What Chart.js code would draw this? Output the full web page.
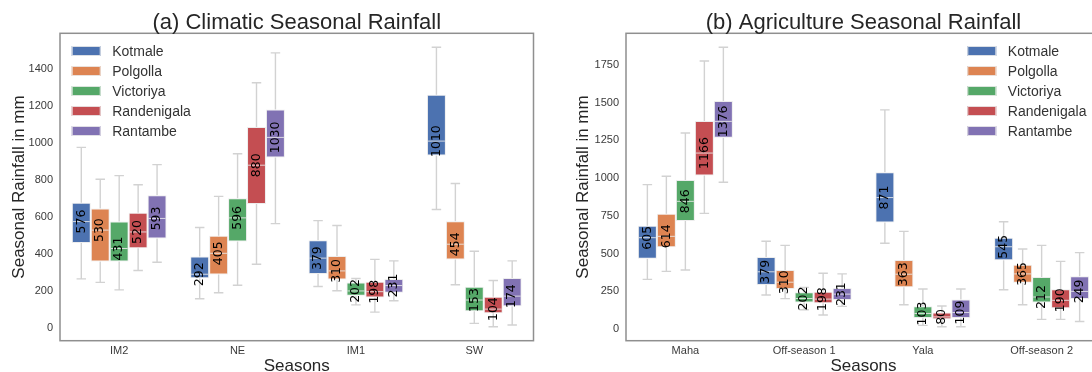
<!DOCTYPE html>
<html>
<head>
<meta charset="utf-8">
<script src="https://cdn.jsdelivr.net/npm/chart.js@4.4.1/dist/chart.umd.min.js"></script>
<style>
  html, body { margin: 0; padding: 0; background: #ffffff; overflow: hidden; width: 1092px; height: 372px; }
  .panel { position: absolute; top: 0; height: 372px; overflow: hidden; }
  #panelA { left: 0; width: 546px; }
  #panelB { left: 546px; width: 546px; }
  canvas { display: block; }
</style>
</head>
<body>
<div class="panel" id="panelA"><canvas id="chartA" width="546" height="380"></canvas></div>
<div class="panel" id="panelB"><canvas id="chartB" width="570" height="380"></canvas></div>
<script>
// Reservoir stations and their colours
const stations = ['Kotmale', 'Polgolla', 'Victoriya', 'Randenigala', 'Rantambe'];
const stationColors = ['#4C72B0', '#DD8452', '#55A868', '#C44E52', '#8172B3'];

// (a) Climatic seasons — one row per station, one column per season
const climaticSeasons = ['IM2', 'NE', 'IM1', 'SW'];
const climaticTicks = [0, 200, 400, 600, 800, 1000, 1200, 1400];
const climaticMedian = [
  [576, 292, 379, 1010],
  [530, 405, 310, 454],
  [431, 596, 202, 153],
  [520, 880, 198, 104],
  [593, 1030, 231, 174]
];
const climaticQ1 = [
  [461, 271, 294, 932],
  [361, 291, 264, 372],
  [361, 468, 176, 93],
  [432, 671, 167, 82],
  [485, 922, 192, 120]
];
const climaticQ3 = [
  [678, 388, 476, 1260],
  [646, 499, 391, 578],
  [576, 702, 248, 224],
  [623, 1086, 251, 170],
  [718, 1181, 267, 272]
];
const climaticLow = [
  [267, 160, 226, 641],
  [248, 192, 203, 235],
  [208, 233, 127, 27],
  [312, 346, 88, 9],
  [357, 565, 149, 18]
];
const climaticHigh = [
  [976, 544, 581, 1516],
  [804, 712, 555, 781],
  [824, 942, 269, 416],
  [775, 1325, 372, 258],
  [883, 1486, 364, 364]
];

// (b) Agricultural seasons
const agriSeasons = ['Maha', 'Off-season 1', 'Yala', 'Off-season 2'];
const agriTicks = [0, 250, 500, 750, 1000, 1250, 1500, 1750];
const agriMedian = [
  [605, 379, 871, 545],
  [614, 310, 363, 365],
  [846, 202, 103, 212],
  [1166, 198, 80, 190],
  [1376, 231, 109, 249]
];
const agriQ1 = [
  [466, 292, 705, 455],
  [541, 265, 276, 307],
  [716, 176, 73, 176],
  [1018, 170, 64, 137],
  [1268, 192, 73, 199]
];
const agriQ3 = [
  [685, 477, 1038, 605],
  [764, 391, 457, 426],
  [988, 243, 150, 345],
  [1379, 247, 110, 263],
  [1511, 272, 196, 349]
];
const agriLow = [
  [329, 225, 568, 260],
  [382, 201, 161, 161],
  [391, 128, 24, 64],
  [766, 93, 15, 64],
  [972, 150, 15, 50]
];
const agriHigh = [
  [957, 581, 1452, 711],
  [1012, 554, 647, 530],
  [1299, 276, 265, 554],
  [1776, 369, 152, 448],
  [1867, 365, 265, 506]
];

const SANS = "'Liberation Sans', Arial, sans-serif";
const TEXT = '#262626';

// Whiskers, caps, median lines and rotated median labels for each box
function boxPlotPlugin(stats) {
  return {
    id: 'boxWhiskers',
    beforeDatasetsDraw(chart) {
      const { ctx } = chart;
      const y = chart.scales.y;
      ctx.save();
      ctx.strokeStyle = '#d2d2d2';
      ctx.lineWidth = 1.4;
      chart.data.datasets.forEach((ds, di) => {
        chart.getDatasetMeta(di).data.forEach((bar, i) => {
          const x = bar.x, half = bar.width / 4;
          const lo = y.getPixelForValue(stats.low[di][i]);
          const hi = y.getPixelForValue(stats.high[di][i]);
          const q1 = y.getPixelForValue(stats.q1[di][i]);
          const q3 = y.getPixelForValue(stats.q3[di][i]);
          ctx.beginPath();
          ctx.moveTo(x, q3); ctx.lineTo(x, hi);
          ctx.moveTo(x - half, hi); ctx.lineTo(x + half, hi);
          ctx.moveTo(x, q1); ctx.lineTo(x, lo);
          ctx.moveTo(x - half, lo); ctx.lineTo(x + half, lo);
          ctx.stroke();
        });
      });
      ctx.restore();
    },
    afterDatasetsDraw(chart) {
      const { ctx } = chart;
      const y = chart.scales.y;
      ctx.save();
      chart.data.datasets.forEach((ds, di) => {
        chart.getDatasetMeta(di).data.forEach((bar, i) => {
          const med = stats.median[di][i];
          const my = y.getPixelForValue(med);
          const left = bar.x - bar.width / 2, right = bar.x + bar.width / 2;
          ctx.strokeStyle = 'rgba(235,235,235,0.85)';
          ctx.lineWidth = 1;
          ctx.beginPath();
          ctx.moveTo(left + 1, my); ctx.lineTo(right - 1, my);
          ctx.stroke();
          ctx.save();
          ctx.translate(bar.x, my);
          ctx.rotate(-Math.PI / 2);
          ctx.fillStyle = '#000000';
          ctx.font = "12.5px 'DejaVu Sans', sans-serif";
          ctx.textAlign = 'center';
          ctx.textBaseline = 'middle';
          ctx.fillText(String(med), 0, 0);
          ctx.restore();
        });
      });
      ctx.restore();
    }
  };
}

// Title above the plot frame, the frame itself, and the in-plot legend
function framePlugin(title, legendX) {
  return {
    id: 'panelFrame',
    afterDraw(chart) {
      const { ctx, chartArea: a } = chart;
      ctx.save();
      ctx.strokeStyle = '#8f8f8f';
      ctx.lineWidth = 1.5;
      ctx.strokeRect(a.left, a.top, a.right - a.left, a.bottom - a.top);

      ctx.fillStyle = TEXT;
      ctx.font = '22px ' + SANS;
      ctx.textAlign = 'center';
      ctx.textBaseline = 'middle';
      ctx.fillText(title, (a.left + a.right) / 2, 23);

      ctx.font = '14px ' + SANS;
      ctx.textAlign = 'left';
      stations.forEach((name, i) => {
        const cy = a.top + 17.7 + 20 * i;
        ctx.fillStyle = stationColors[i];
        ctx.fillRect(legendX, cy - 5, 29, 10);
        ctx.strokeStyle = 'rgba(235,235,235,0.9)';
        ctx.lineWidth = 1;
        ctx.strokeRect(legendX + 0.5, cy - 4.5, 28, 9);
        ctx.fillStyle = '#333333';
        ctx.fillText(name, legendX + 40.5, cy + 1);
      });
      ctx.restore();
    }
  };
}

function makePanel(canvasId, seasons, stats, ticks, title, opt) {
  const all = stats.low.flat().concat(stats.high.flat());
  const lo = Math.min(...all), hi = Math.max(...all);
  const pad = (hi - lo) * 0.05;

  const datasets = stations.map((name, s) => ({
    label: name,
    data: seasons.map((_, i) => [stats.q1[s][i], stats.q3[s][i]]),
    backgroundColor: stationColors[s],
    borderColor: 'rgba(235,235,235,0.9)',
    borderWidth: 1,
    borderSkipped: false,
    categoryPercentage: 0.8,
    barPercentage: 1.0
  }));

  return new Chart(document.getElementById(canvasId), {
    type: 'bar',
    data: { labels: seasons, datasets },
    options: {
      responsive: false,
      animation: false,
      devicePixelRatio: 1,
      layout: { padding: { top: 33.3, right: opt.rightPad, left: 0, bottom: 0 } },
      plugins: { legend: { display: false }, tooltip: { enabled: false }, title: { display: false } },
      scales: {
        x: {
          grid: { display: false, drawTicks: false },
          border: { display: false },
          ticks: { color: '#3a3a3a', font: { family: SANS, size: 11 }, padding: 3.4, maxRotation: 0 },
          title: { display: true, text: 'Seasons', color: TEXT, font: { family: SANS, size: 17 }, padding: { top: 0, bottom: 3.8 } },
          afterFit: s => { s.height = 39.3; }
        },
        y: {
          min: lo - pad,
          max: hi + pad,
          grid: { display: false, drawTicks: false },
          border: { display: false },
          afterBuildTicks: s => { s.ticks = ticks.map(v => ({ value: v })); },
          ticks: { color: '#3a3a3a', font: { family: SANS, size: 11 }, padding: 7, callback: v => String(v) },
          title: { display: true, text: 'Seasonal Rainfall in mm', color: TEXT, font: { family: SANS, size: 17 }, padding: { top: opt.yTitlePad, bottom: 0 } },
          afterFit: s => { s.width = opt.yWidth; }
        }
      }
    },
    plugins: [boxPlotPlugin(stats), framePlugin(title, opt.legendX)]
  });
}

makePanel('chartA', climaticSeasons,
  { median: climaticMedian, q1: climaticQ1, q3: climaticQ3, low: climaticLow, high: climaticHigh },
  climaticTicks, '(a) Climatic Seasonal Rainfall',
  { yWidth: 60, rightPad: 12.5, yTitlePad: 8.8, legendX: 71.7 });

makePanel('chartB', agriSeasons,
  { median: agriMedian, q1: agriQ1, q3: agriQ3, low: agriLow, high: agriHigh },
  agriTicks, '(b) Agriculture Seasonal Rainfall',
  { yWidth: 80, rightPad: 15, yTitlePad: 26.8, legendX: 421.3 });
</script>
</body>
</html>
